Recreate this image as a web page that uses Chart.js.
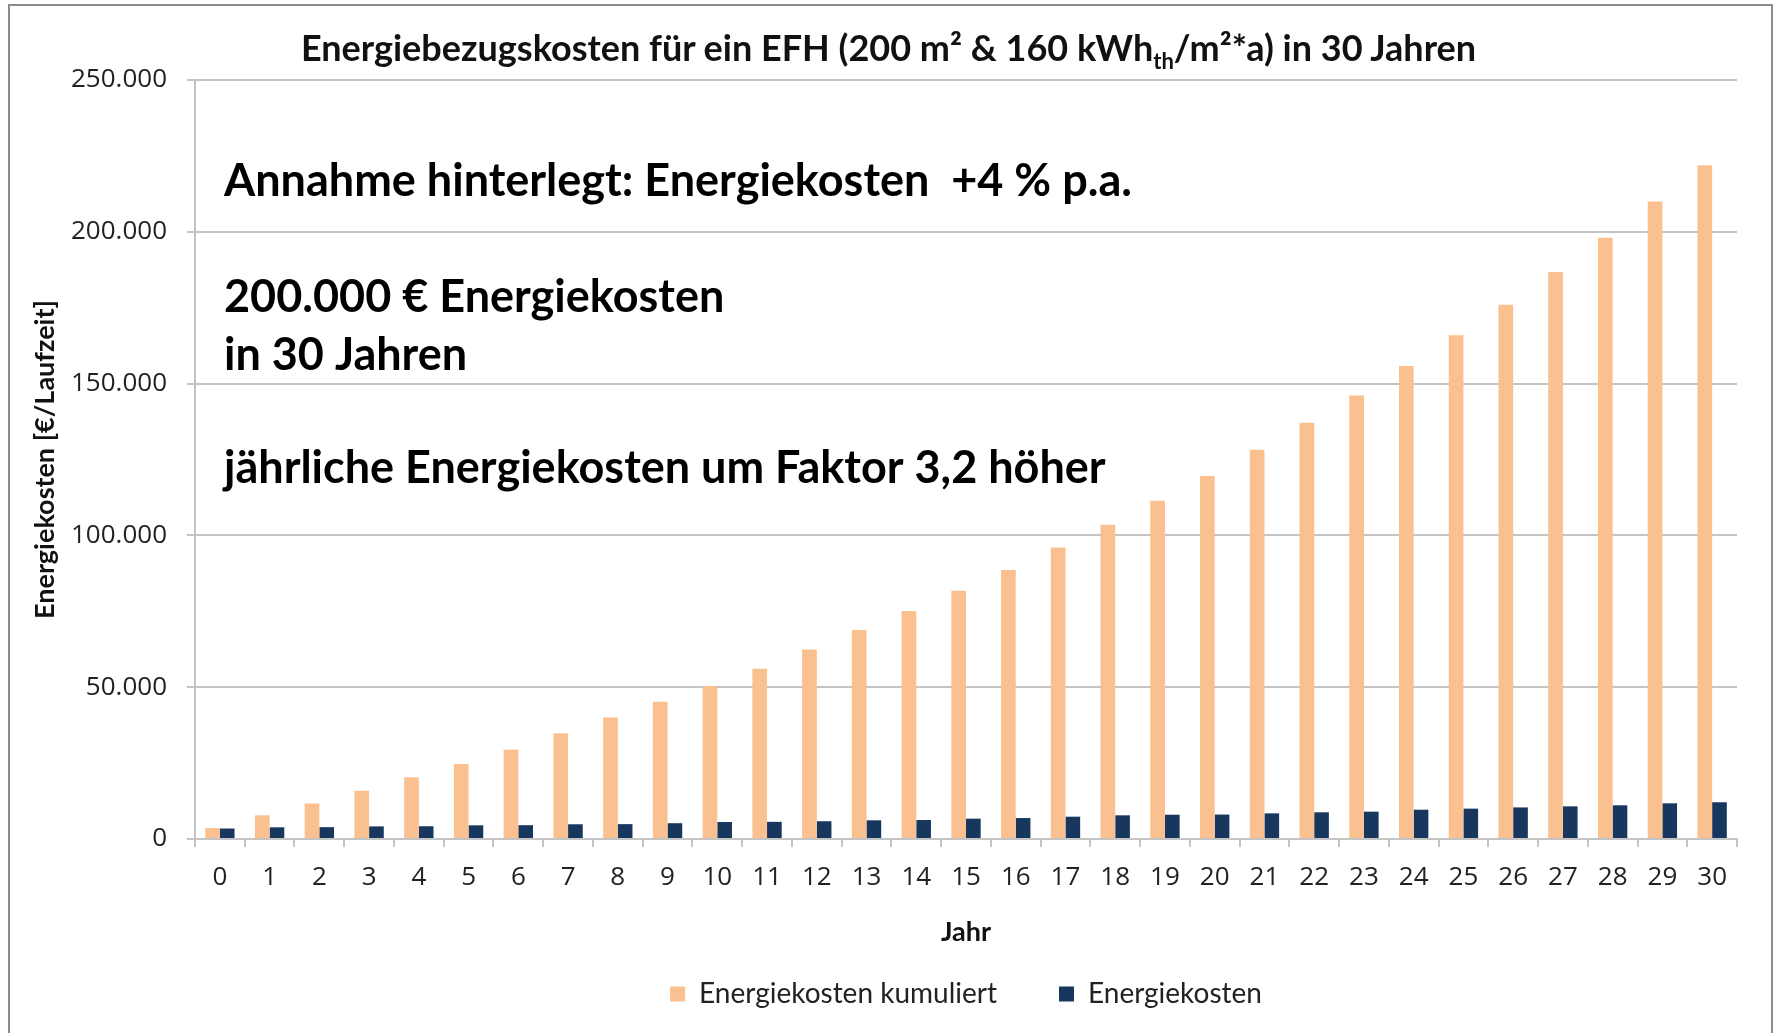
<!DOCTYPE html>
<html lang="de">
<head>
  <meta charset="UTF-8" />
  <title>Energiebezugskosten EFH 30 Jahre</title>
  <script src="https://cdn.jsdelivr.net/npm/chart.js"></script>
  <style>
    html, body {
      margin: 0;
      padding: 0;
      background: #ffffff;
    }

    #wrap {
      position: relative;
      width: 1777px;
      height: 1033px;
      overflow: hidden;
    }

    #rahmen {
      position: absolute;
      left: 8px;
      top: 4px;
      width: 1761px;
      height: 1060px;
      border: 2px solid #8c8c8c;
    }

    #titel {
      position: absolute;
      top: 25px;
      left: 0;
      width: 1777px;
      text-align: center;
      font-family: Lato, sans-serif;
      font-weight: 700;
      font-size: 36px;
      line-height: 44px;
      color: #111;
    }

    #titel sub {
      font-size: 22px;
      line-height: 0;
    }

    canvas {
      position: absolute;
      left: 0;
      top: 0;
    }
  </style>
</head>
<body>
  <div id="wrap">
    <div id="rahmen"></div>
    <canvas id="kostenChart" width="1777" height="1033"></canvas>
    <div id="titel">Energiebezugskosten für ein EFH (200 m² &amp; 160 kWh<sub>th</sub>/m²*a) in 30 Jahren</div>
  </div>

  <script>
    // Werte (EUR)
    const jahre = ["0", "1", "2", "3", "4", "5", "6", "7", "8", "9", "10",
      "11", "12", "13", "14", "15", "16", "17", "18", "19", "20",
      "21", "22", "23", "24", "25", "26", "27", "28", "29", "30"];

    const kostenKumuliert = [3600, 7800, 11700, 15900, 20300, 24700, 29400, 34800, 40000, 45200,
      50400, 56100, 62400, 68800, 75100, 81800, 88600, 96000, 103500, 111400,
      119600, 128200, 137100, 146100, 155800, 165900, 176000, 186800, 198000, 210000, 221900];

    const kostenJahr = [3450, 3850, 3900, 4150, 4200, 4500, 4550, 4850, 4900, 5200,
      5600, 5650, 5850, 6150, 6250, 6700, 6900, 7350, 7800, 8000,
      8050, 8450, 8800, 9000, 9650, 10000, 10400, 10750, 11100, 11750, 12100];

    const yTickLabels = ["0", "50.000", "100.000", "150.000", "200.000", "250.000"];

    const notizen = [
      "Annahme hinterlegt: Energiekosten  +4 % p.a.",
      "200.000 € Energiekosten",
      "in 30 Jahren",
      "jährliche Energiekosten um Faktor 3,2 höher"
    ];

    const CALIBRI = "Lato, sans-serif";
    const SEGOE = "'Open Sans', sans-serif";

    // Textblock im Diagramm (Abstand von oben im Plotbereich)
    const notizAbstand = [101, 217, 275, 388];

    const notizPlugin = {
      id: "notizen",
      afterDatasetsDraw(chart) {
        const { ctx, chartArea } = chart;
        ctx.save();
        ctx.fillStyle = "#000";
        ctx.font = "bold 45px " + CALIBRI;
        ctx.textBaseline = "middle";
        notizen.forEach((txt, i) => {
          ctx.fillText(txt, chartArea.left + 29, chartArea.top + notizAbstand[i]);
        });
        ctx.restore();
      }
    };

    new Chart(document.getElementById("kostenChart"), {
      type: "bar",
      data: {
        labels: jahre,
        datasets: [
          {
            label: "Energiekosten kumuliert",
            data: kostenKumuliert,
            backgroundColor: "#fac090",
            categoryPercentage: 0.59,
            barPercentage: 1.0
          },
          {
            label: "Energiekosten",
            data: kostenJahr,
            backgroundColor: "#17375e",
            categoryPercentage: 0.59,
            barPercentage: 1.0
          }
        ]
      },
      options: {
        responsive: false,
        animation: false,
        layout: {
          padding: { top: 80, left: 10, right: 40, bottom: 15 }
        },
        plugins: {
          legend: {
            position: "bottom",
            fullSize: false,
            labels: {
              font: { family: CALIBRI, size: 28 },
              color: "#222",
              boxWidth: 15,
              boxHeight: 15,
              padding: 62
            }
          },
          tooltip: { enabled: false }
        },
        scales: {
          x: {
            grid: {
              drawOnChartArea: false,
              drawTicks: true,
              tickLength: 8,
              color: "#c4c4c4",
              lineWidth: 2
            },
            border: { color: "#c4c4c4", width: 2 },
            ticks: {
              font: { family: SEGOE, size: 26 },
              color: "#222",
              padding: 15,
              maxRotation: 0,
              autoSkip: false
            },
            title: {
              display: true,
              text: "Jahr",
              font: { family: CALIBRI, size: 27, weight: "bold" },
              color: "#111",
              // Titel ragt etwas unter die Achse, damit die Legende mehr Luft bekommt
              padding: { top: 0, bottom: -30 }
            },
            afterFit: s => { s.height = 79; }
          },
          y: {
            min: 0,
            max: 250000,
            ticks: {
              stepSize: 50000,
              font: { family: SEGOE, size: 26 },
              color: "#222",
              padding: 20,
              callback: (v, i) => yTickLabels[i]
            },
            grid: {
              color: "#c4c4c4",
              lineWidth: 2,
              tickLength: 8
            },
            border: { color: "#c4c4c4", width: 2 },
            title: {
              display: true,
              text: "Energiekosten [€/Laufzeit]",
              font: { family: CALIBRI, size: 27, weight: "bold" },
              color: "#111",
              padding: { top: 19, bottom: 0 }
            },
            afterFit: s => { s.width = 185; }
          }
        }
      },
      plugins: [notizPlugin]
    });
  </script>
</body>
</html>
